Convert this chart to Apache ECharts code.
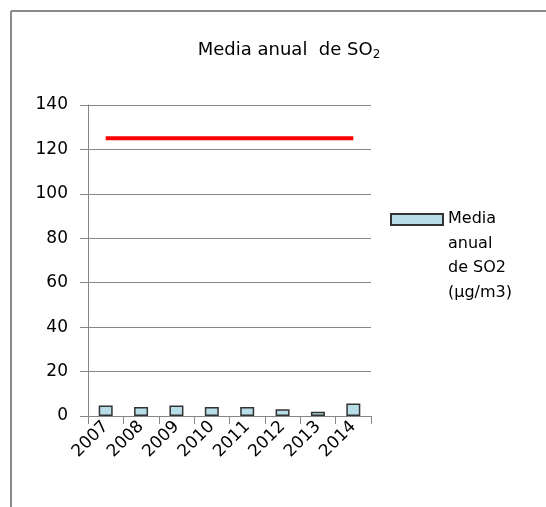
<!DOCTYPE html>
<html>
<head>
<meta charset="utf-8">
<script src="https://cdn.jsdelivr.net/npm/echarts@6/dist/echarts.min.js"></script>
<style>html,body{margin:0;padding:0;background:#fff}#c{width:546px;height:507px}</style>
</head>
<body>
<div id="c"></div>
<script>
var categories = ['2007', '2008', '2009', '2010', '2011', '2012', '2013', '2014'];
var so2Values = [4.7, 4.1, 4.7, 4.1, 4.1, 3.0, 1.9, 5.6];
var limitValues = [125, 125, 125, 125, 125, 125, 125, 125];
var seriesName = 'Media\nanual\nde SO2\n(µg/m3)';

var chart = echarts.init(document.getElementById('c'), null, {renderer: 'canvas'});
var font = 'DejaVu Sans';
chart.setOption({
  animation: false,
  backgroundColor: '#fff',
  graphic: [
    {type: 'line', shape: {x1: 11, y1: 11, x2: 546, y2: 11}, style: {stroke: '#8a8a8a', lineWidth: 2}},
    {type: 'line', shape: {x1: 11, y1: 11, x2: 11, y2: 507}, style: {stroke: '#8a8a8a', lineWidth: 2}}
  ],
  title: {
    text: '{a|Media anual  de SO}{s|2}',
    left: 284,
    textAlign: 'center',
    top: 34,
    textStyle: {
      rich: {
        a: {fontFamily: font, fontSize: 18, fontWeight: 'normal', color: '#000', lineHeight: 22},
        s: {fontFamily: font, fontSize: 12, fontWeight: 'normal', color: '#000', lineHeight: 22, padding: [9, 0, 0, 0]}
      }
    }
  },
  legend: {
    data: [{name: seriesName, icon: 'path://M0,0 M0,7 L52,7 L52,18 L0,18 Z M52,98'}],
    left: 385,
    top: 201,
    itemWidth: 52,
    itemHeight: 98,
    textStyle: {fontFamily: font, fontSize: 16, color: '#000', lineHeight: 24.5}
  },
  grid: {left: 88, right: 175, top: 105, bottom: 91, containLabel: false},
  xAxis: {
    type: 'category',
    data: categories,
    boundaryGap: true,
    axisLine: {lineStyle: {color: '#868686', width: 1}},
    axisTick: {show: true, length: 8, lineStyle: {color: '#868686'}},
    axisLabel: {rotate: 45, fontFamily: font, fontSize: 17, color: '#000', margin: 8, interval: 0}
  },
  yAxis: {
    type: 'value',
    min: 0,
    max: 140,
    interval: 20,
    axisLine: {show: true, lineStyle: {color: '#868686', width: 1}},
    axisTick: {show: true, length: 8, lineStyle: {color: '#868686'}},
    axisLabel: {fontFamily: font, fontSize: 17, color: '#000', margin: 20},
    splitLine: {lineStyle: {color: '#868686', width: 1}}
  },
  series: [
    {
      name: seriesName,
      type: 'bar',
      data: so2Values,
      barWidth: 14,
      itemStyle: {color: '#b7dde8', borderColor: '#333', borderWidth: 1.5}
    },
    {
      name: 'limit',
      type: 'line',
      data: limitValues,
      symbol: 'none',
      lineStyle: {color: '#ff0000', width: 4},
      z: 5
    }
  ]
});
</script>
</body>
</html>
